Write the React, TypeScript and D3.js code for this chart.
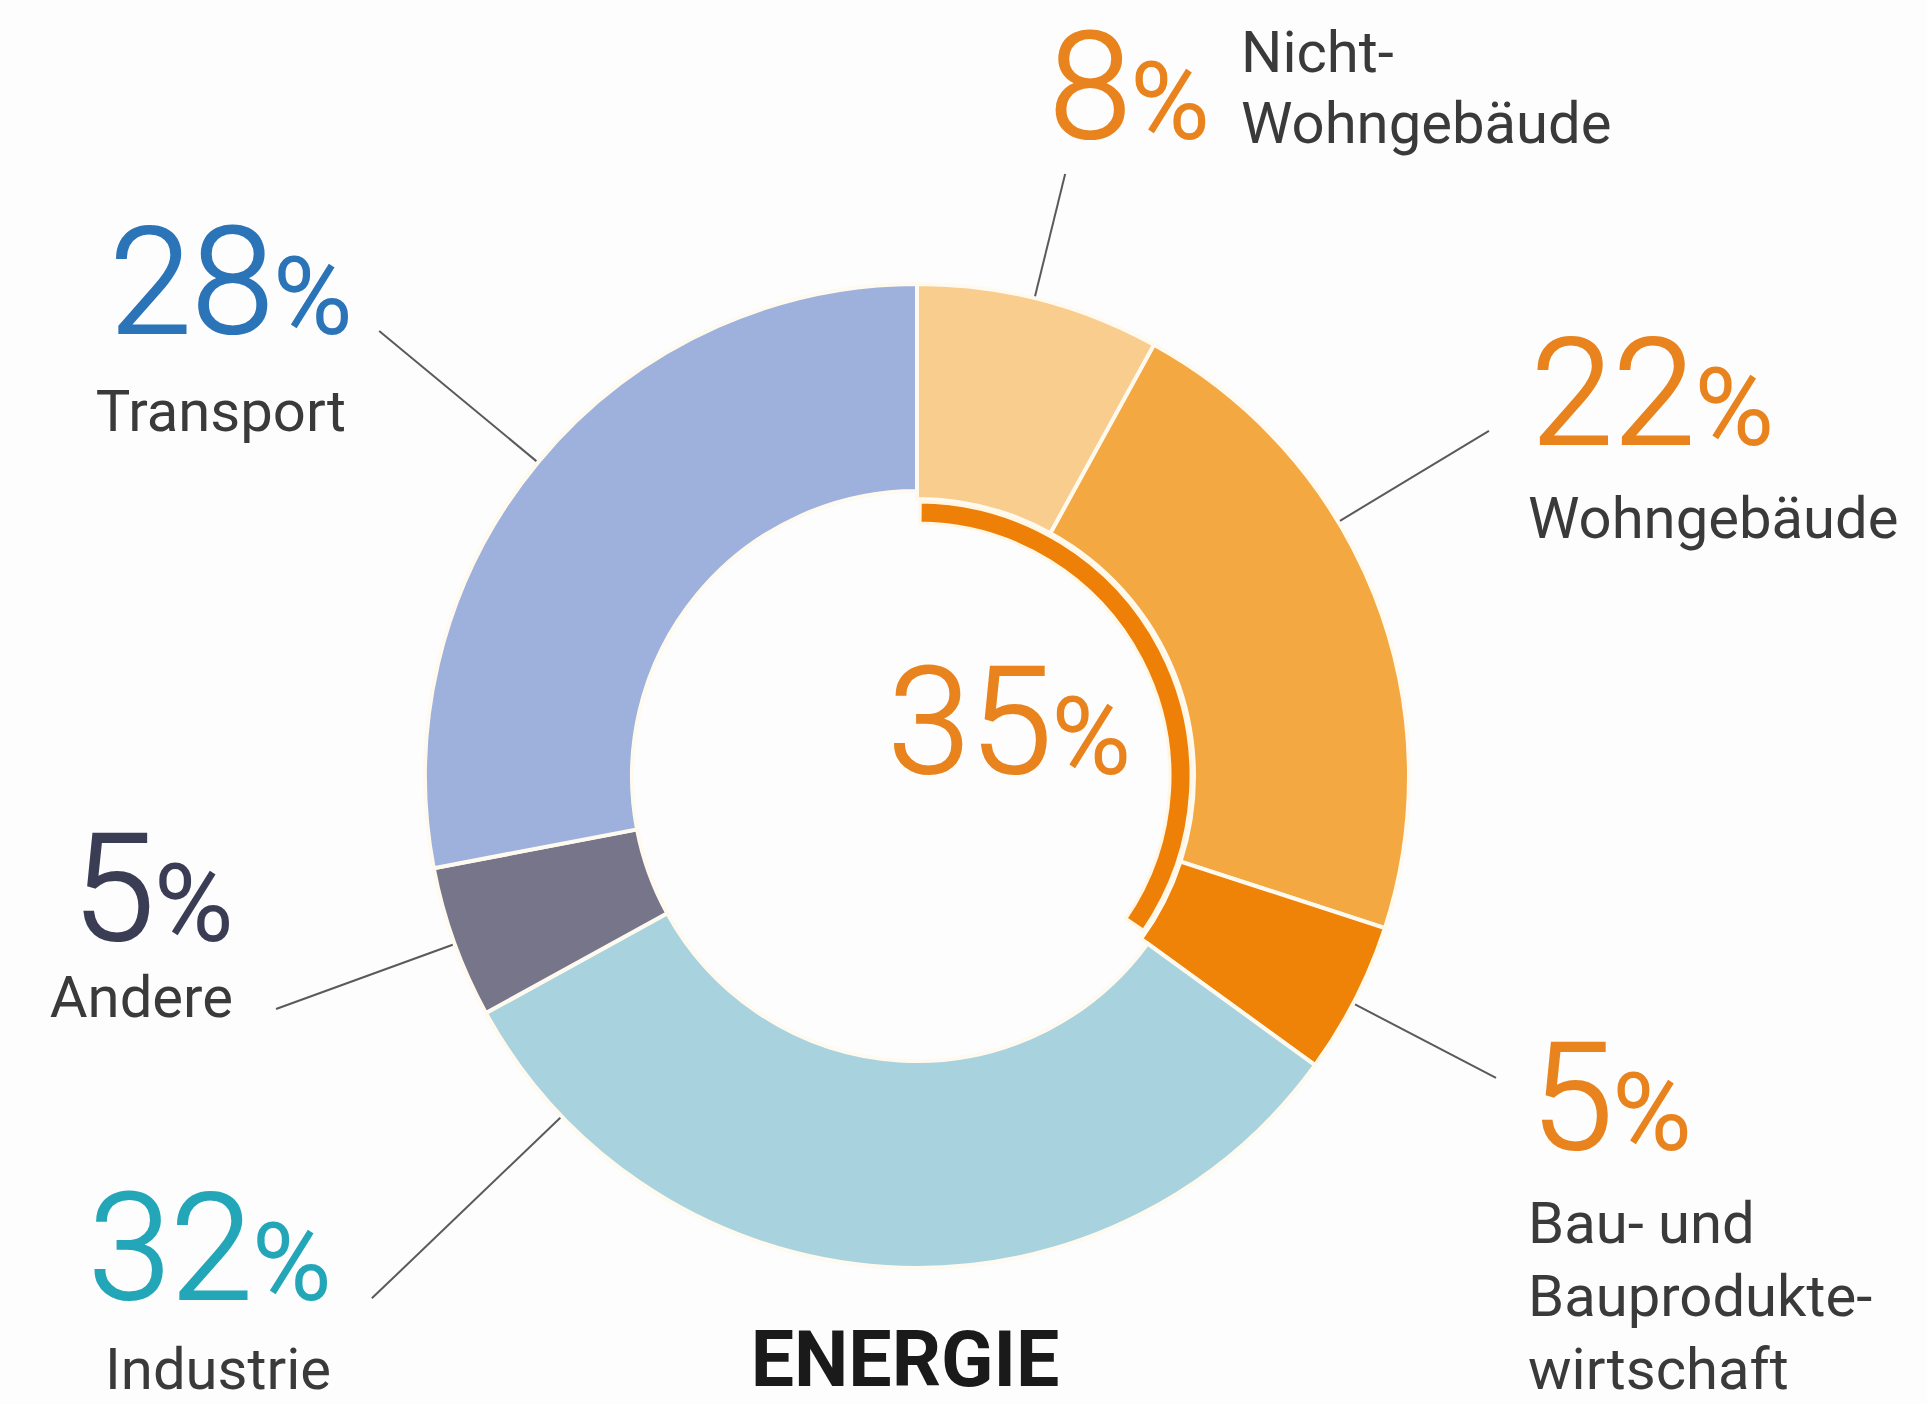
import React from "react";
import * as d3 from "d3";

// shares of emissions, clockwise from 12 o'clock
const categories = ["Nicht-Wohngebäude", "Wohngebäude", "Bau- und Bauproduktewirtschaft", "Industrie", "Andere", "Transport"];
const shares = [8, 22, 5, 32, 5, 28];
const labelLines = [["Nicht-", "Wohngebäude"], ["Wohngebäude"], ["Bau- und", "Bauprodukte-", "wirtschaft"], ["Industrie"], ["Andere"], ["Transport"]];
const buildingGroup = ["Nicht-Wohngebäude", "Wohngebäude", "Bau- und Bauproduktewirtschaft"];
const centerTitle = "ENERGIE";

const sliceColors = ["#F9CD8E", "#F3A842", "#EE8307", "#A8D3DE", "#77758A", "#9DB1DC"];
const valueColors = ["#E8831E", "#E8831E", "#E8831E", "#23A6B8", "#3B3D55", "#2B74B8"];

// label layout (where the numbers / texts sit, leader line angle fraction and length)
const layout = [
  { anchor: "start", vx: 1049, vy: 138, tx: 1241, ty: 72, lh: 71, f: 0.48, r2: 620 },
  { anchor: "start", vx: 1531, vy: 444, tx: 1528, ty: 538, lh: 73, f: 0.38, r2: 668 },
  { anchor: "start", vx: 1531, vy: 1149, tx: 1528, ty: 1243, lh: 73, f: 0.53, r2: 653 },
  { anchor: "end", vx: 331, vy: 1299, tx: 331, ty: 1389, lh: 73, f: 0.87, r2: 755 },
  { anchor: "end", vx: 233, vy: 940, tx: 233, ty: 1017, lh: 73, f: 0.49, r2: 682 },
  { anchor: "end", vx: 352, vy: 333, tx: 346, ty: 431, lh: 73, f: 0.5, r2: 698 },
];

const width = 1927;
const height = 1404;
const cx = 917;
const cy = 776;
const outerR = 492;
const innerR = 285;
const innerRGroup = 277;
const font = "Roboto, 'Noto Sans', sans-serif";

export default function App() {
  const pie = d3.pie<number>().sort(null).value(d => d);
  const arcs = pie(shares);
  const arc = d3.arc<d3.PieArcDatum<number>>()
    .innerRadius((d) => (buildingGroup.includes(categories[d.index]) ? innerRGroup : innerR))
    .outerRadius(outerR);

  const groupShare = d3.sum(shares.filter((_, i) => buildingGroup.includes(categories[i])));
  const groupEnd = (groupShare / d3.sum(shares)) * Math.PI * 2;
  const groupArc = d3.arc()({ innerRadius: 253, outerRadius: 274, startAngle: 0.012, endAngle: groupEnd - 0.03 }) as string;

  const polar = (a: number, r: number) => [Math.sin(a) * r, -Math.cos(a) * r];

  return (
    <div style={{ position: "absolute", left: 0, top: 0 }}>
      <svg width={width} height={height} style={{ display: "block", background: "#fdfdfd" }}>
        <g transform={`translate(${cx},${cy})`}>
          {arcs.map((a, i) => (
            <path key={categories[i]} d={arc(a) as string} fill={sliceColors[i]} stroke="#fffaf0" strokeWidth={4} />
          ))}
          <path d={groupArc} fill="#EE8008" stroke="#fff6e4" strokeWidth={3} />
          {arcs.map((a, i) => {
            const ang = a.startAngle + layout[i].f * (a.endAngle - a.startAngle);
            const [x1, y1] = polar(ang, outerR + 2);
            const [x2, y2] = polar(ang, layout[i].r2);
            return <line key={"l" + i} x1={x1} y1={y1} x2={x2} y2={y2} stroke="#5a5a5a" strokeWidth={2} />;
          })}
        </g>

        {shares.map((v, i) => (
          <g key={"t" + i} fontFamily={font}>
            <text x={layout[i].vx} y={layout[i].vy} textAnchor={layout[i].anchor} fill={valueColors[i]}
              stroke={valueColors[i]} strokeWidth={2.2} fontSize={148} fontWeight={300}>
              {v}
              <tspan fontSize={106}>%</tspan>
            </text>
            {labelLines[i].map((line, j) => (
              <text key={j} x={layout[i].tx} y={layout[i].ty + j * layout[i].lh} textAnchor={layout[i].anchor} fill="#3a3a3a" fontSize={58}>
                {line}
              </text>
            ))}
          </g>
        ))}

        <text x={888} y={773} fontFamily={font} fontSize={148} fontWeight={300} fill="#E8831E" stroke="#E8831E" strokeWidth={2.2}>
          {groupShare}
          <tspan fontSize={106}>%</tspan>
        </text>
        <text x={905} y={1386} textAnchor="middle" fontFamily={font} fontSize={77} fontWeight={700} fill="#1a1a1a">
          {centerTitle}
        </text>
      </svg>
    </div>
  );
}
